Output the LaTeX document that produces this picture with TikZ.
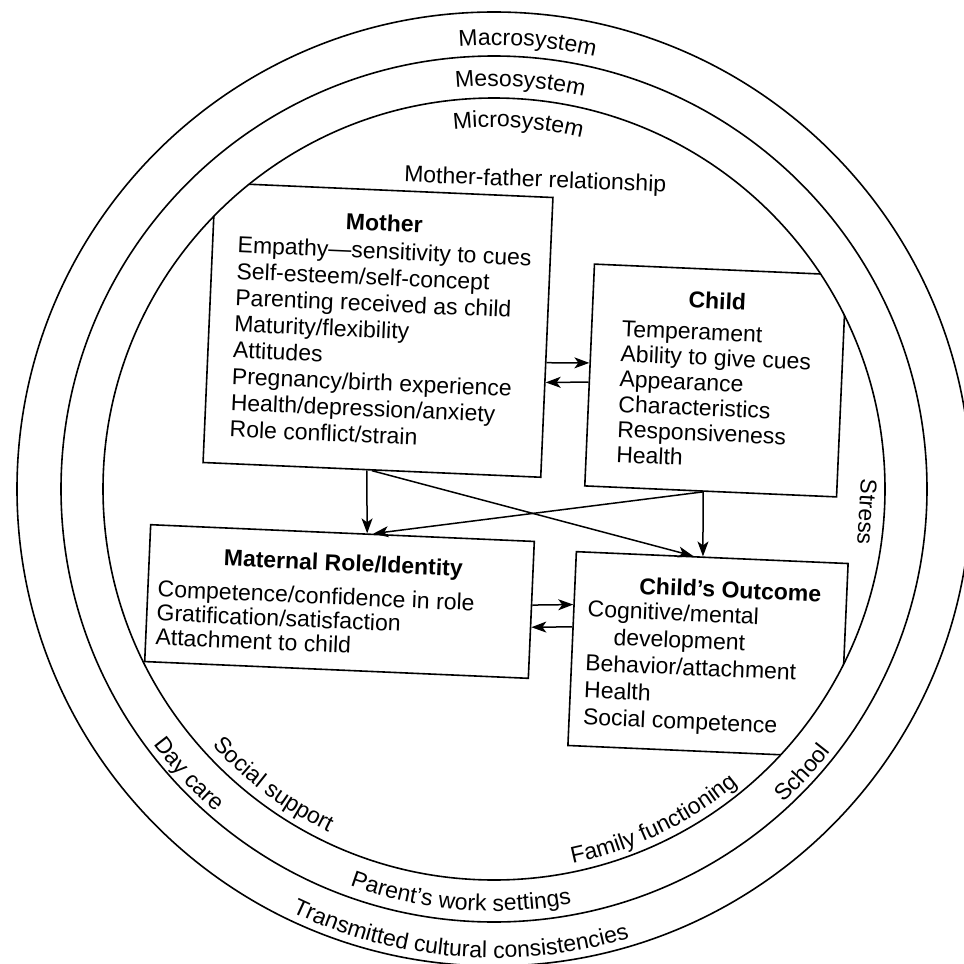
\documentclass[tikz,border=0pt]{standalone}
\usepackage{fontspec}
\setmainfont{Liberation Sans}
\usetikzlibrary{arrows.meta,calc,decorations.text}
\newcommand\lblsz{\fontsize{23}{26}\selectfont}
\begin{document}
\begin{tikzpicture}[x=1pt,y=1pt,
  ringline/.style={line width=1.6pt},
  boxline/.style={draw, line width=1.6pt, rectangle, inner sep=0pt, rotate=-2.5},
  ttl/.style={font=\lblsz\bfseries, inner sep=0pt, rotate=-2.5, anchor=base},
  body/.style={inner sep=0pt, rotate=-2.5, anchor=north west, align=left},
  lbl/.style={font=\lblsz, inner sep=0pt},
  arr/.style={line width=1.5pt, -{Stealth[length=15pt,width=11pt,inset=4pt]}},
]
\useasboundingbox (0,0) rectangle (964,-964);
\clip (0,0) rectangle (964,-964);
\coordinate (C) at (494,-489);
% rings
\draw[ringline] (C) circle[radius=477];
\draw[ringline] (C) circle[radius=433];
\draw[ringline] (C) circle[radius=391];
% ring labels (top, clockwise)
\path[decorate, decoration={text along path, text align=center, text={|\lblsz|Macrosystem}}]
  (C) ++(110.7:444) arc[start angle=110.7, end angle=60.7, radius=444];
\path[decorate, decoration={text along path, text align=center, text={|\lblsz|Mesosystem}}]
  (C) ++(111.3:403) arc[start angle=111.3, end angle=61.3, radius=403];
\path[decorate, decoration={text along path, text align=center, text={|\lblsz|Microsystem}}]
  (C) ++(111.2:362) arc[start angle=111.2, end angle=61.2, radius=362];
% ring labels (bottom, counterclockwise)
\path[decorate, decoration={text along path, text align=center, text={|\lblsz|Transmitted cultural consistencies}}]
  (C) ++(230.6:469) arc[start angle=230.6, end angle=300.6, radius=469];
\path[decorate, decoration={text along path, text align=center, text={|\lblsz|Parent's work settings}}]
  (C) ++(235.3:422) arc[start angle=235.3, end angle=295.3, radius=422];
\path[decorate, decoration={text along path, text align=center, text={|\lblsz|Day care}}]
  (C) ++(203.1:426) arc[start angle=203.1, end angle=243.1, radius=426];
\path[decorate, decoration={text along path, text align=center, text={|\lblsz|Social support}}]
  (C) ++(208.3:381) arc[start angle=208.3, end angle=258.3, radius=381];
\path[decorate, decoration={text along path, text align=center, text={|\lblsz|Family functioning}}]
  (C) ++(265.7:383) arc[start angle=265.7, end angle=325.7, radius=383];
\path[decorate, decoration={text along path, text align=center, text={|\lblsz|School}}]
  (C) ++(297.4:427) arc[start angle=297.4, end angle=337.4, radius=427];
\node[lbl, rotate=-93.5] (stress) at (867,-512) {Stress};
\node[lbl, rotate=-2.2, anchor=base] (mfrel) at (535,-187) {Mother-father relationship};
% boxes, clipped by the microsystem circle
\begin{scope}
  \clip (C) circle[radius=391];
  \node[boxline, minimum width=338pt, minimum height=280pt] (mother) at (378,-330) {};
  \node[boxline, minimum width=252pt, minimum height=222pt] (child) at (715.5,-380.5) {};
  \node[boxline, minimum width=384pt, minimum height=137pt] (maternal) at (339.5,-601.5) {};
  \node[boxline, minimum width=272pt, minimum height=194pt] (outcome) at (708,-654.5) {};
\end{scope}
% box texts
\node[ttl] (mtitle) at (384,-231) {Mother};
\node[body, font=\fontsize{23}{26.3}\selectfont] (mbody) at (238,-236)
  {Empathy\textemdash sensitivity to cues\\Self-esteem/self-concept\\Parenting received as child\\Maturity/flexibility\\Attitudes\\Pregnancy/birth experience\\Health/depression/anxiety\\Role conflict/strain};
\node[ttl] (ctitle) at (717,-309) {Child};
\node[body, font=\fontsize{23}{25.2}\selectfont] (cbody) at (622,-320.5)
  {Temperament\\Ability to give cues\\Appearance\\Characteristics\\Responsiveness\\Health};
\node[ttl] (rtitle) at (343,-571) {Maternal Role/Identity};
\node[body, font=\fontsize{23}{24}\selectfont] (rbody) at (158,-580)
  {Competence/confidence in role\\Gratification/satisfaction\\Attachment to child};
\node[ttl] (otitle) at (730,-598) {Child's Outcome};
\node[body, font=\fontsize{23}{27}\selectfont] (obody) at (588,-600)
  {Cognitive/mental\\\hspace*{27pt}development\\Behavior/attachment\\Health\\Social competence};
% connectors
\draw[arr] ($(mother.north east)!0.59!(mother.south east)$) -- ($(child.north west)!0.446!(child.south west)$);
\draw[arr] ($(child.north west)!0.532!(child.south west)$) -- ($(mother.north east)!0.66!(mother.south east)$);
\draw[arr] ($(mother.south west)!0.485!(mother.south east)$) -- ($(maternal.north west)!0.564!(maternal.north east)$);
\draw[arr] ($(child.south west)!0.47!(child.south east)$) -- ($(maternal.north west)!0.58!(maternal.north east)$);
\draw[arr] ($(mother.south west)!0.50!(mother.south east)$) -- ($(outcome.north west)!0.43!(outcome.north east)$);
\draw[arr] ($(child.south west)!0.47!(child.south east)$) -- ($(outcome.north west)!0.466!(outcome.north east)$);
\draw[arr] ($(maternal.north east)!0.465!(maternal.south east)$) -- ($(outcome.north west)!0.275!(outcome.south west)$);
\draw[arr] ($(outcome.north west)!0.389!(outcome.south west)$) -- ($(maternal.north east)!0.625!(maternal.south east)$);
\end{tikzpicture}
\end{document}
